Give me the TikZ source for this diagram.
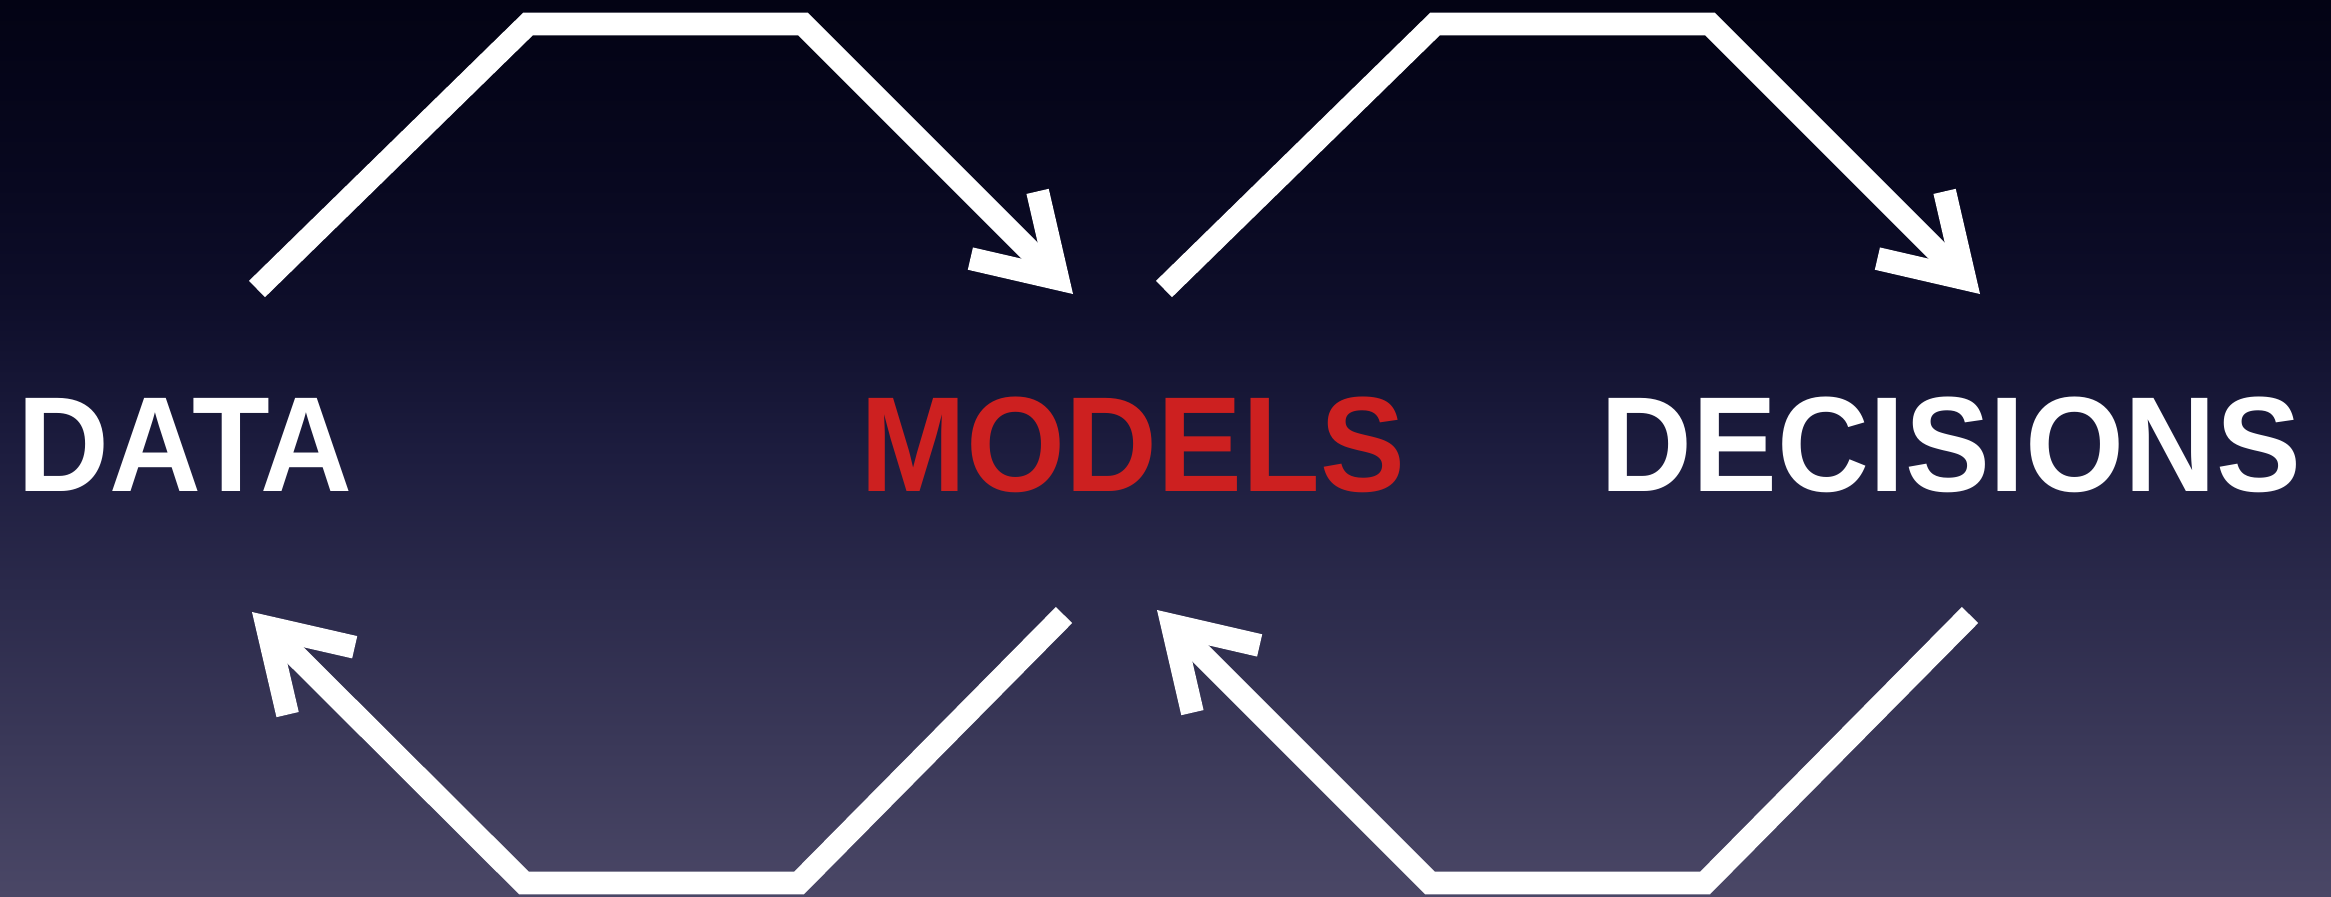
\documentclass[tikz,border=0pt]{standalone}
\usepackage{fontspec}
\newfontfamily\slidefont[FakeStretch=0.94]{Liberation Sans}
\usetikzlibrary{arrows.meta}
\definecolor{bgtop}{RGB}{3,3,20}
\definecolor{bgdeep}{RGB}{7,7,30}
\definecolor{bghigh}{RGB}{14,14,42}
\definecolor{bgmid}{RGB}{28,28,62}
\definecolor{bgbot}{RGB}{74,71,102}
\definecolor{modelred}{RGB}{205,32,32}
\pgfdeclareverticalshading{slidebg}{100bp}{color(0bp)=(bgbot); color(25bp)=(bgbot);
  color(50bp)=(bgmid); color(58bp)=(bghigh); color(66bp)=(bgdeep);
  color(75bp)=(bgtop); color(100bp)=(bgtop)}

\begin{document}
\begin{tikzpicture}[x=0.01cm,y=-0.01cm,
      cycle/.style={draw=white,line width=6.5pt,line join=miter,
        -{Straight Barb[length=0.76cm,width=0.95cm]}},
      word/.style={font=\slidefont\bfseries\fontsize{38.5}{40}\selectfont,
        text=white,anchor=base,inner sep=0pt}]
    % background
    \shade[shading=slidebg] (0,0) rectangle (2331,896);
    % labels
    \node[word] (data) at (185,491) {DATA};
    \node[word,text=modelred] (models) at (1133,491) {MODELS};
    \node[word] (decisions) at (1951,491) {DECISIONS};
    % loop ends
    \coordinate (dataout) at (257,289);
    \coordinate (modelsin) at (1073,294);
    \coordinate (modelsout) at (1164,289);
    \coordinate (decin) at (1980,294);
    \coordinate (decback) at (1970,615);
    \coordinate (modelsback) at (1157,610);
    \coordinate (modelsret) at (1064,615);
    \coordinate (datain) at (252,612);
    % upper loops
    \draw[cycle] (dataout) -- ++(271,-265) -- ++(275,0) -- (modelsin);
    \draw[cycle] (modelsout) -- ++(271,-265) -- ++(275,0) -- (decin);
    % lower loops
    \draw[cycle] (modelsret) -- ++(-265,268) -- ++(-275,0) -- (datain);
    \draw[cycle] (decback) -- ++(-265,268) -- ++(-275,0) -- (modelsback);
  \end{tikzpicture}
\end{document}
